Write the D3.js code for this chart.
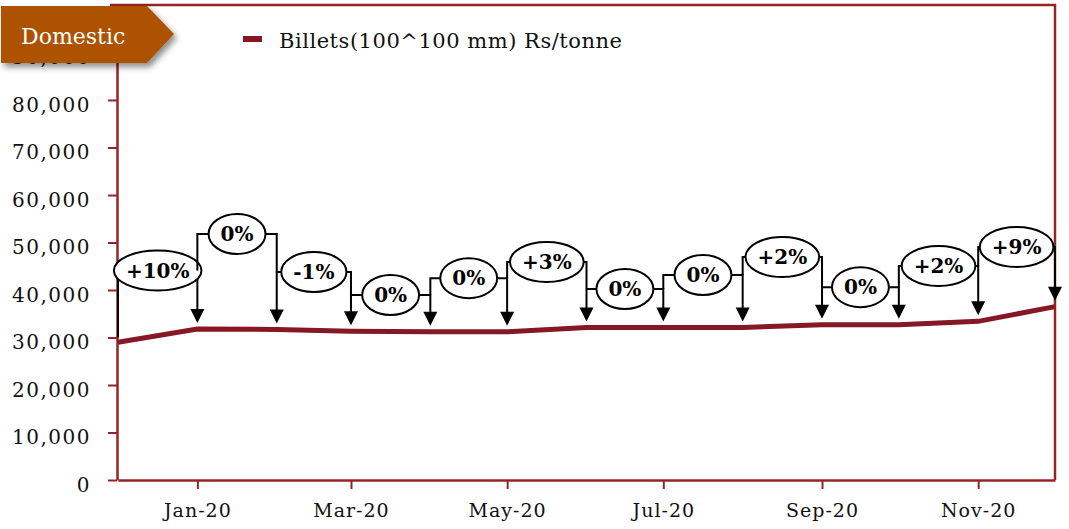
<!DOCTYPE html>
<html>
<head>
<meta charset="utf-8">
<script src="https://cdn.jsdelivr.net/npm/d3@7"></script>
<style>
  body { margin: 0; background: #fff; }
  text { font-family: "DejaVu Serif", Georgia, serif; }
</style>
</head>
<body>
<div id="chart"></div>
<script>
// monthly billet prices (Rs/tonne)
var months = ["Dec-19", "Jan-20", "Feb-20", "Mar-20", "Apr-20", "May-20", "Jun-20",
              "Jul-20", "Aug-20", "Sep-20", "Oct-20", "Nov-20", "Dec-20"];
var billets = [29000, 31800, 31700, 31300, 31200, 31200, 32100,
               32100, 32100, 32700, 32700, 33400, 36500];

// month-on-month change callouts and the level (Rs/tonne) each bubble sits at
var changeLabels = ["+10%", "0%", "-1%", "0%", "0%", "+3%", "0%", "0%", "+2%", "0%", "+2%", "+9%"];
var labelLevels = [44100, 51800, 43800, 38950, 42500, 45900, 40200, 43150, 46950, 40600, 45050, 49050];

var yTicks = [0, 10000, 20000, 30000, 40000, 50000, 60000, 70000, 80000, 90000];
var xTickMonths = ["Jan-20", "Mar-20", "May-20", "Jul-20", "Sep-20", "Nov-20"];

var seriesName = "Billets(100^100 mm) Rs/tonne";
var boxTitle = "Domestic";

var W = 1069, H = 529;
var lineColor = "#861724", axisColor = "#962427";
var margin = {left: 117, right: 1055, top: 5, bottom: 480};

var parse = d3.timeParse("%b-%y");
var dates = months.map(parse);

var x = d3.scaleTime()
    .domain([dates[0], dates[dates.length - 1]])
    .range([margin.left + 1, margin.right]);
var y = d3.scaleLinear()
    .domain([0, 100000])
    .range([margin.bottom, margin.top]);

var svg = d3.select("#chart").append("svg")
    .attr("width", W)
    .attr("height", H);

var defs = svg.append("defs");
defs.append("filter").attr("id", "shadow")
    .attr("x", "-10%").attr("y", "-10%").attr("width", "130%").attr("height", "140%")
    .append("feDropShadow")
    .attr("dx", 3).attr("dy", 4).attr("stdDeviation", 3)
    .attr("flood-color", "#000").attr("flood-opacity", 0.45);

// plot border (top + right)
svg.append("path")
    .attr("d", "M" + (margin.left - 7) + "," + margin.top + "H" + margin.right + "V" + margin.bottom)
    .attr("fill", "none")
    .attr("stroke", axisColor)
    .attr("stroke-width", 2.5);

// y axis
var yAxis = d3.axisLeft(y)
    .tickValues(yTicks)
    .tickSize(9)
    .tickSizeOuter(0)
    .tickPadding(17)
    .tickFormat(d3.format(","));

var gy = svg.append("g")
    .attr("transform", "translate(" + margin.left + ",0)")
    .call(yAxis);
gy.select(".domain").attr("stroke", axisColor).attr("stroke-width", 2.5);
gy.selectAll(".tick line").attr("stroke", axisColor).attr("stroke-width", 2);
gy.selectAll(".tick text")
    .attr("fill", "#111")
    .attr("dy", "0.55em")
    .style("font-size", "20px")
    .style("letter-spacing", "1.5px")
    .style("font-family", "'DejaVu Serif', serif");

// x axis
var xAxis = d3.axisBottom(x)
    .tickValues(xTickMonths.map(parse))
    .tickSize(9)
    .tickSizeOuter(0)
    .tickPadding(15)
    .tickFormat(d3.timeFormat("%b-%y"));

var gx = svg.append("g")
    .attr("transform", "translate(0," + margin.bottom + ")")
    .call(xAxis);
gx.select(".domain").attr("stroke", axisColor).attr("stroke-width", 2.5);
gx.selectAll(".tick line").attr("stroke", axisColor).attr("stroke-width", 2);
gx.selectAll(".tick text")
    .attr("fill", "#111")
    .style("font-size", "19px")
    .style("letter-spacing", "1px")
    .style("font-family", "'DejaVu Serif', serif");

// price line
var line = d3.line()
    .x(function(d, i) { return x(dates[i]); })
    .y(function(d) { return y(d); });

svg.append("path")
    .datum(billets)
    .attr("d", line)
    .attr("fill", "none")
    .attr("stroke", lineColor)
    .attr("stroke-width", 5);

// change callouts: bracket + arrow + bubble
var callouts = svg.append("g");
var arrowH = 14, arrowW = 7;

changeLabels.forEach(function(lab, i) {
    var xl = x(dates[i]), xr = x(dates[i + 1]);
    var ly = y(labelLevels[i]);
    var tip = y(billets[i + 1]) - 6;
    var leftEnd = (i == 0) ? y(billets[0]) - 5 : Math.max(ly, y(labelLevels[i - 1]));

    var g = callouts.append("g");
    g.append("path")
        .attr("d", "M" + xl + "," + leftEnd + "V" + ly + "H" + xr + "V" + (tip - arrowH + 1))
        .attr("fill", "none")
        .attr("stroke", "#000")
        .attr("stroke-width", 2);
    g.append("path")
        .attr("d", "M" + (xr - arrowW) + "," + (tip - arrowH) + "L" + (xr + arrowW) + "," + (tip - arrowH) + "L" + xr + "," + tip + "Z")
        .attr("fill", "#000");

    var ell = g.append("ellipse");
    var t = g.append("text")
        .attr("x", (xl + xr) / 2)
        .attr("y", ly)
        .attr("dy", "0.36em")
        .attr("text-anchor", "middle")
        .style("font-size", "20px")
        .style("font-weight", "bold")
        .text(lab);
    var w = t.node().getComputedTextLength();
    ell.attr("cx", (xl + xr) / 2)
        .attr("cy", ly)
        .attr("rx", w / 2 + 12)
        .attr("ry", 20)
        .attr("fill", "#fff")
        .attr("stroke", "#000")
        .attr("stroke-width", 2);
});

// legend
svg.append("line")
    .attr("x1", 243).attr("x2", 262)
    .attr("y1", 39).attr("y2", 39)
    .attr("stroke", lineColor)
    .attr("stroke-width", 6);
svg.append("text")
    .attr("x", 279)
    .attr("y", 48)
    .attr("textLength", 343)
    .attr("lengthAdjust", "spacing")
    .style("font-size", "21px")
    .attr("fill", "#111")
    .text(seriesName);

// "Domestic" tag
var tag = svg.append("g");
tag.append("path")
    .attr("d", "M1,6H147L174,34L147,63H1Z")
    .attr("fill", "#ad5200")
    .attr("filter", "url(#shadow)");
tag.append("text")
    .attr("x", 21)
    .attr("y", 44)
    .attr("fill", "#fff")
    .style("font-size", "22px")
    .text(boxTitle);
</script>
</body>
</html>
